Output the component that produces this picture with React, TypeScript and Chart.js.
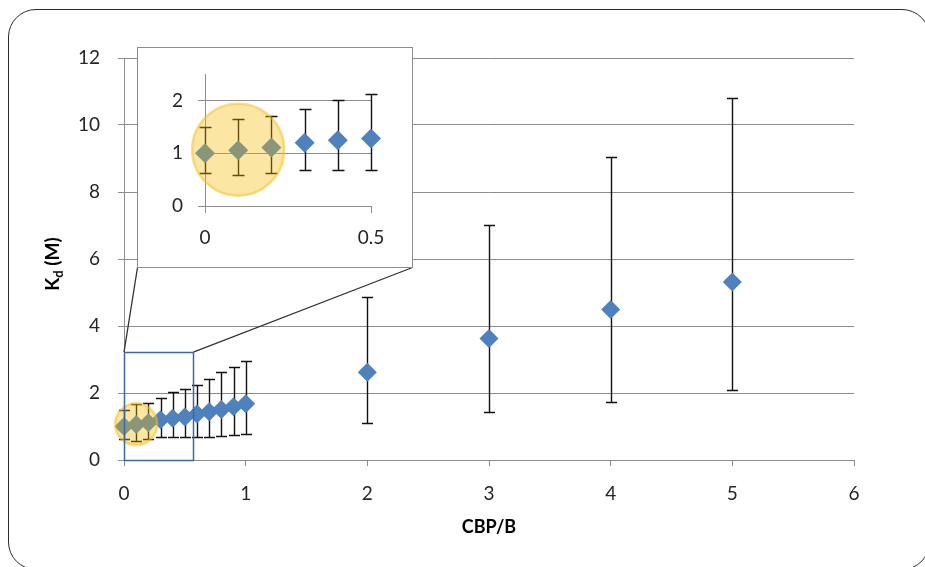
import React, { useEffect, useRef } from "react";
import { Chart, registerables } from "chart.js";

Chart.register(...registerables);

// ---- data ----
const X_VALUES = [0, 0.1, 0.2, 0.3, 0.4, 0.5, 0.6, 0.7, 0.8, 0.9, 1, 2, 3, 4, 5];
const KD_VALUES = [1.0, 1.06, 1.11, 1.2, 1.25, 1.28, 1.37, 1.44, 1.51, 1.59, 1.68, 2.62, 3.63, 4.49, 5.31];
const ERR_UPPER = [1.5, 1.66, 1.71, 1.85, 2.02, 2.12, 2.25, 2.42, 2.62, 2.77, 2.95, 4.88, 7.02, 9.05, 10.8];
const ERR_LOWER = [0.62, 0.58, 0.62, 0.68, 0.68, 0.68, 0.69, 0.7, 0.72, 0.75, 0.77, 1.1, 1.44, 1.74, 2.09];

const MAIN_X_TICKS = [0, 1, 2, 3, 4, 5, 6];
const MAIN_Y_TICKS = [0, 2, 4, 6, 8, 10, 12];
const INSET_X_TICKS = [0, 0.5];
const INSET_Y_TICKS = [0, 1, 2];
const INSET_Y_MAX = 2.5;

// zoomed region (data units) and highlighted spot
const ZOOM_X_MAX = 0.57;
const ZOOM_Y_MAX = 3.22;
const HIGHLIGHT_X = 0.1;
const HIGHLIGHT_Y = 1.07;

const X_TITLE = "CBP/B";
const Y_TITLE_MAIN = "K";
const Y_TITLE_SUB = "d";
const Y_TITLE_UNIT = " (M)";

// ---- styles ----
const FONT = "Lato, 'Open Sans', sans-serif";
const GRID = "#8c8c8c";
const TICK_COLOR = "#262626";
const BLUE = "#4f81bd";
const INSET_BOX = { left: 137, top: 47, width: 276, height: 221 };

const points = X_VALUES.map((x, i) => ({ x, y: KD_VALUES[i], lo: ERR_LOWER[i], hi: ERR_UPPER[i] }));

const errorBars = (capHalf: number) => ({
  id: "errorBars",
  beforeDatasetsDraw(chart: any) {
    const { ctx, scales } = chart;
    const xs = scales.x, ys = scales.y;
    ctx.save();
    ctx.strokeStyle = "#111";
    ctx.lineWidth = 1.4;
    for (const p of chart.data.datasets[0].data as any[]) {
      const px = Math.round(xs.getPixelForValue(p.x)) + 0.5;
      const t = Math.round(ys.getPixelForValue(p.hi)) + 0.5;
      const b = Math.round(ys.getPixelForValue(p.lo)) + 0.5;
      ctx.beginPath();
      ctx.moveTo(px, t); ctx.lineTo(px, b);
      ctx.moveTo(px - capHalf, t); ctx.lineTo(px + capHalf, t);
      ctx.moveTo(px - capHalf, b); ctx.lineTo(px + capHalf, b);
      ctx.stroke();
    }
    ctx.restore();
  },
});

const highlight = (radius: number) => ({
  id: "highlight",
  afterDatasetsDraw(chart: any) {
    const { ctx, scales } = chart;
    const cx = scales.x.getPixelForValue(HIGHLIGHT_X);
    const cy = scales.y.getPixelForValue(HIGHLIGHT_Y);
    ctx.save();
    ctx.beginPath();
    ctx.arc(cx, cy, radius, 0, Math.PI * 2);
    ctx.fillStyle = "rgba(247,185,0,0.36)";
    ctx.fill();
    ctx.lineWidth = 2.5;
    ctx.strokeStyle = "rgba(247,190,30,0.5)";
    ctx.stroke();
    ctx.restore();
  },
});

const zoomBox = {
  id: "zoomBox",
  afterDatasetsDraw(chart: any) {
    const { ctx, scales } = chart;
    const l = scales.x.getPixelForValue(0);
    const r = scales.x.getPixelForValue(ZOOM_X_MAX);
    const b = scales.y.getPixelForValue(0);
    const t = scales.y.getPixelForValue(ZOOM_Y_MAX);
    ctx.save();
    ctx.strokeStyle = "#333";
    ctx.lineWidth = 1.3;
    ctx.beginPath();
    ctx.moveTo(l, t);
    ctx.lineTo(INSET_BOX.left + 0.5, INSET_BOX.top + INSET_BOX.height - 0.5);
    ctx.moveTo(r, t);
    ctx.lineTo(INSET_BOX.left + INSET_BOX.width - 0.5, INSET_BOX.top + INSET_BOX.height - 0.5);
    ctx.stroke();
    ctx.strokeStyle = "#3f67a3";
    ctx.lineWidth = 1.5;
    ctx.strokeRect(Math.round(l) + 0.5, Math.round(t) + 0.5, Math.round(r - l), Math.round(b - t));
    ctx.restore();
  },
};

const yTitle = {
  id: "yTitle",
  afterDraw(chart: any) {
    const { ctx, chartArea } = chart;
    const big = `bold 19px ${FONT}`;
    const small = `bold 13px ${FONT}`;
    ctx.save();
    ctx.font = big;
    const w1 = ctx.measureText(Y_TITLE_MAIN).width;
    const w3 = ctx.measureText(Y_TITLE_UNIT).width;
    ctx.font = small;
    const w2 = ctx.measureText(Y_TITLE_SUB).width;
    const total = w1 + w2 + w3;
    ctx.translate(52, (chartArea.top + chartArea.bottom) / 2 + 5);
    ctx.rotate(-Math.PI / 2);
    ctx.fillStyle = "#000";
    ctx.textBaseline = "alphabetic";
    ctx.textAlign = "left";
    let x = -total / 2;
    ctx.font = big;
    ctx.fillText(Y_TITLE_MAIN, x, 7);
    x += w1;
    ctx.font = small;
    ctx.fillText(Y_TITLE_SUB, x, 11);
    x += w2;
    ctx.font = big;
    ctx.fillText(Y_TITLE_UNIT, x, 7);
    ctx.restore();
  },
};

function setTicks(values: number[]) {
  return (scale: any) => {
    scale.ticks = values.map((v) => ({ value: v }));
  };
}

function MainChart() {
  const ref = useRef<HTMLCanvasElement>(null);
  useEffect(() => {
    const chart = new Chart(ref.current!, {
      type: "scatter",
      data: {
        datasets: [
          {
            data: points as any,
            pointStyle: "rectRot",
            pointRadius: 9.5,
            pointHoverRadius: 9.5,
            backgroundColor: BLUE,
            borderWidth: 0,
            clip: false as any,
          },
        ],
      },
      options: {
        animation: false,
        responsive: false,
        devicePixelRatio: 1,
        events: [],
        layout: { padding: { top: 58, right: 71, left: 0, bottom: 0 } },
        plugins: { legend: { display: false }, tooltip: { enabled: false } },
        scales: {
          x: {
            type: "linear",
            min: 0,
            max: 6,
            afterBuildTicks: setTicks(MAIN_X_TICKS),
            afterFit: (s: any) => { s.height = 107; },
            grid: { drawOnChartArea: false, drawTicks: true, tickLength: 6, color: GRID, lineWidth: 1 },
            border: { display: true, color: GRID, width: 1 },
            ticks: { font: { family: FONT, size: 19 }, color: TICK_COLOR, padding: 16, maxRotation: 0 },
            title: {
              display: true,
              text: X_TITLE,
              color: "#000",
              font: { family: FONT, size: 18, weight: "bold" },
              padding: { top: 0, bottom: 29 },
            },
          },
          y: {
            type: "linear",
            min: 0,
            max: 12,
            afterBuildTicks: setTicks(MAIN_Y_TICKS),
            afterFit: (s: any) => { s.width = 124; },
            grid: { drawTicks: true, tickLength: 6, color: GRID, lineWidth: 1 },
            border: { display: true, color: GRID, width: 1 },
            ticks: { font: { family: FONT, size: 19 }, color: TICK_COLOR, padding: 18 },
          },
        },
      },
      plugins: [errorBars(5.5), highlight(21), zoomBox, yTitle],
    });
    return () => chart.destroy();
  }, []);
  return <canvas ref={ref} width={925} height={567} style={{ position: "absolute", left: 0, top: 0, width: 925, height: 567 }} />;
}

function InsetChart() {
  const ref = useRef<HTMLCanvasElement>(null);
  useEffect(() => {
    const insetPoints = points.filter((p) => p.x <= INSET_X_TICKS[INSET_X_TICKS.length - 1]);
    const chart = new Chart(ref.current!, {
      type: "scatter",
      data: {
        datasets: [
          {
            data: insetPoints as any,
            pointStyle: "rectRot",
            pointRadius: 10,
            pointHoverRadius: 10,
            backgroundColor: BLUE,
            borderWidth: 0,
            clip: false as any,
          },
        ],
      },
      options: {
        animation: false,
        responsive: false,
        devicePixelRatio: 1,
        events: [],
        layout: { padding: { top: 25, right: 41, left: 0, bottom: 0 } },
        plugins: { legend: { display: false }, tooltip: { enabled: false } },
        scales: {
          x: {
            type: "linear",
            min: 0,
            max: INSET_X_TICKS[INSET_X_TICKS.length - 1],
            afterBuildTicks: setTicks(INSET_X_TICKS),
            afterFit: (s: any) => { s.height = 61; },
            grid: { drawOnChartArea: false, drawTicks: true, tickLength: 7, color: GRID, lineWidth: 1 },
            border: { display: true, color: GRID, width: 1 },
            ticks: { font: { family: FONT, size: 19 }, color: TICK_COLOR, padding: 13, maxRotation: 0 },
          },
          y: {
            type: "linear",
            min: 0,
            max: INSET_Y_MAX,
            afterBuildTicks: setTicks(INSET_Y_TICKS),
            afterFit: (s: any) => { s.width = 67; },
            grid: { drawTicks: true, tickLength: 7, color: GRID, lineWidth: 1 },
            border: { display: true, color: GRID, width: 1 },
            ticks: { font: { family: FONT, size: 19 }, color: TICK_COLOR, padding: 15 },
          },
        },
      },
      plugins: [errorBars(6), highlight(46)],
    });
    return () => chart.destroy();
  }, []);
  return (
    <canvas
      ref={ref}
      width={INSET_BOX.width - 2}
      height={INSET_BOX.height - 2}
      style={{ display: "block", width: INSET_BOX.width - 2, height: INSET_BOX.height - 2 }}
    />
  );
}

export default function App() {
  return (
    <div style={{ position: "fixed", left: 0, top: 0, width: 925, height: 567, overflow: "hidden", background: "#fff" }}>
      <div
        style={{
          position: "absolute",
          left: 8,
          top: 9,
          width: 922,
          height: 561,
          border: "1.5px solid #2b2b2b",
          borderRadius: 28,
          boxSizing: "border-box",
        }}
      />
      <MainChart />
      <div
        style={{
          position: "absolute",
          left: INSET_BOX.left,
          top: INSET_BOX.top,
          width: INSET_BOX.width,
          height: INSET_BOX.height,
          border: "1px solid #8c8c8c",
          background: "#fff",
          boxSizing: "border-box",
        }}
      >
        <InsetChart />
      </div>
    </div>
  );
}
